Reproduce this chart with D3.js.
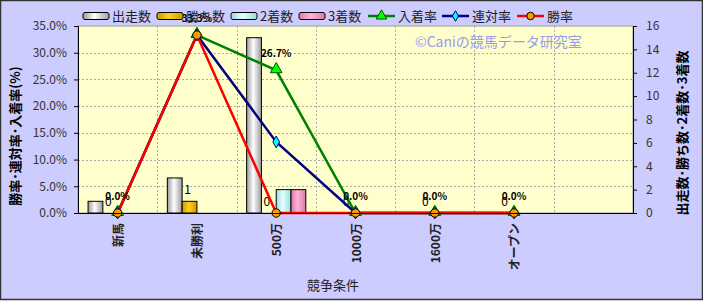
<!DOCTYPE html>
<html>
<head>
<meta charset="utf-8">
<script src="https://cdn.jsdelivr.net/npm/d3@7"></script>
<style>
  body { margin: 0; background: #fff; }
  svg { display: block; font-family: 'Noto Sans CJK JP', 'DejaVu Sans', sans-serif; }
</style>
</head>
<body>
<svg id="chart" width="703" height="301"></svg>
<script>
// data
const categories = ['新馬', '未勝利', '500万', '1000万', '1600万', 'オープン', ''];
const starts  = [1, 3, 15, 0, 0, 0, null];
const wins    = [0, 1, 0, 0, 0, 0, null];
const seconds = [0, 0, 2, 0, 0, 0, null];
const thirds  = [0, 0, 2, 0, 0, 0, null];
const winRate      = [0, 33.3, 0, 0, 0, 0, null];
const rentaiRate   = [0, 33.3, 13.3, 0, 0, 0, null];
const inchakuRate  = [0, 33.3, 26.7, 0, 0, 0, null];
const leftTicks  = [0, 5, 10, 15, 20, 25, 30, 35];
const rightTicks = [0, 2, 4, 6, 8, 10, 12, 14, 16];

const W = 703, H = 301;
const plot = { left: 78, right: 633, top: 26, bottom: 213 };

const svg = d3.select('#chart');

// gradients for the cylinder-ish bars
const defs = svg.append('defs');
const grad = (id, edge, mid) => {
  const g = defs.append('linearGradient').attr('id', id).attr('x1', 0).attr('x2', 1).attr('y1', 0).attr('y2', 0);
  g.append('stop').attr('offset', '0%').attr('stop-color', edge);
  g.append('stop').attr('offset', '45%').attr('stop-color', mid);
  g.append('stop').attr('offset', '100%').attr('stop-color', edge);
};
grad('gStart', '#9a9a9a', '#ffffff');
grad('gWin', '#c99a00', '#ffd21a');
grad('gSecond', '#99dddd', '#e6ffff');
grad('gThird', '#dd77aa', '#ffb3d9');

const barSeries = [
  { key: 's', name: '出走数', values: starts, fill: 'url(#gStart)' },
  { key: 'w', name: '勝ち数', values: wins, fill: 'url(#gWin)' },
  { key: '2', name: '2着数', values: seconds, fill: 'url(#gSecond)' },
  { key: '3', name: '3着数', values: thirds, fill: 'url(#gThird)' },
];
const lineSeries = [
  { name: '入着率', values: inchakuRate, color: '#008000', marker: 'triangle' },
  { name: '連対率', values: rentaiRate, color: '#000080', marker: 'diamond' },
  { name: '勝率', values: winRate, color: '#ff0000', marker: 'circle' },
];

// background + frame
svg.append('rect').attr('x', 0.5).attr('y', 0.5).attr('width', W - 1).attr('height', H - 2)
  .style('fill', '#ccccff').style('stroke', '#333').style('stroke-width', 1.5);

// scales
const x = d3.scaleBand().domain(categories).range([plot.left, plot.right]);
const xb = d3.scaleBand().domain(barSeries.map(d => d.key)).range([0, x.bandwidth()])
  .paddingInner(0).paddingOuter(0.68);
const yL = d3.scaleLinear().domain([0, 35]).range([plot.bottom, plot.top]);
const yR = d3.scaleLinear().domain([0, 16]).range([plot.bottom, plot.top]);

// plot area
svg.append('rect').attr('x', plot.left).attr('y', plot.top)
  .attr('width', plot.right - plot.left).attr('height', plot.bottom - plot.top)
  .style('fill', '#ffffcc').style('stroke', '#999').style('stroke-width', 1);

// grid
svg.append('g').selectAll('line.h').data(leftTicks.slice(1, -1)).enter().append('line')
  .attr('x1', plot.left).attr('x2', plot.right)
  .attr('y1', d => Math.round(yL(d)) + 0.5).attr('y2', d => Math.round(yL(d)) + 0.5)
  .style('stroke', '#aaa').style('stroke-dasharray', '2,2');
svg.append('g').selectAll('line.v').data(categories.slice(1)).enter().append('line')
  .attr('x1', d => Math.round(x(d)) + 0.5).attr('x2', d => Math.round(x(d)) + 0.5)
  .attr('y1', plot.top).attr('y2', plot.bottom)
  .style('stroke', '#aaa').style('stroke-dasharray', '2,2');

// watermark
svg.append('text').attr('x', 415).attr('y', 47).text('©Caniの競馬データ研究室')
  .style('font-size', '14px').style('fill', '#9999ee');

// bars
barSeries.forEach(s => {
  svg.append('g').selectAll('rect')
    .data(categories.map((c, i) => ({ c, v: s.values[i] })).filter(d => d.v))
    .enter().append('rect')
    .attr('x', d => x(d.c) + xb(s.key))
    .attr('width', xb.bandwidth())
    .attr('y', d => yR(d.v))
    .attr('height', d => yR(0) - yR(d.v))
    .style('fill', s.fill).style('stroke', '#000').style('stroke-width', 1);
});

// win count labels
svg.append('g').selectAll('text')
  .data(categories.map((c, i) => ({ c, v: wins[i] })).filter(d => d.v !== null))
  .enter().append('text')
  .attr('x', d => x(d.c) + xb('w') + xb.bandwidth() / 2 - 2)
  .attr('y', d => yR(d.v) - 7)
  .attr('text-anchor', 'middle')
  .style('font-size', '12px').style('fill', '#000')
  .text(d => d.v);

// lines
const cx = c => x(c) + x.bandwidth() / 2;
lineSeries.forEach(s => {
  const pts = categories.map((c, i) => ({ c, v: s.values[i] })).filter(d => d.v !== null);
  svg.append('path').datum(pts)
    .attr('d', d3.line().x(d => cx(d.c)).y(d => yL(d.v)))
    .style('fill', 'none').style('stroke', s.color).style('stroke-width', 2.5);
});

// markers
const markerShape = {
  triangle: { type: d3.symbolTriangle, size: 60, fill: '#00ff00', stroke: '#005500' },
  diamond: { type: d3.symbolDiamond, size: 40, fill: '#00ffff', stroke: '#000080' },
  circle: { type: d3.symbolCircle, size: 55, fill: '#ff9900', stroke: '#000' },
};
lineSeries.forEach(s => {
  const m = markerShape[s.marker];
  svg.append('g').selectAll('path')
    .data(categories.map((c, i) => ({ c, v: s.values[i] })).filter(d => d.v !== null))
    .enter().append('path')
    .attr('transform', d => `translate(${cx(d.c)},${yL(d.v) - (s.marker === 'triangle' ? 1 : 0)})`)
    .attr('d', d3.symbol().type(m.type).size(m.size))
    .style('fill', m.fill).style('stroke', m.stroke).style('stroke-width', 1);
});

// 入着率 labels
svg.append('g').selectAll('text')
  .data(categories.map((c, i) => ({ c, v: inchakuRate[i] })).filter(d => d.v !== null))
  .enter().append('text')
  .attr('x', d => cx(d.c))
  .attr('y', d => yL(d.v) - 13)
  .attr('text-anchor', 'middle')
  .style('font-size', '10px').style('font-weight', 'bold').style('fill', '#000')
  .text(d => d.v.toFixed(1) + '%');

// axes
const leftAxis = svg.append('g').attr('transform', `translate(${plot.left},0)`)
  .call(d3.axisLeft(yL).tickValues(leftTicks).tickSize(4).tickFormat(d => d.toFixed(1) + '%'));
const rightAxis = svg.append('g').attr('transform', `translate(${plot.right},0)`)
  .call(d3.axisRight(yR).tickValues(rightTicks).tickSize(4));
const bottomAxis = svg.append('g').attr('transform', `translate(0,${plot.bottom})`)
  .call(d3.axisBottom(x).tickSize(0).tickFormat(''));
[leftAxis, rightAxis, bottomAxis].forEach(a => {
  a.select('.domain').style('stroke', '#000');
  a.selectAll('.tick line').style('stroke', '#000');
  a.selectAll('text').style('font-size', '12px').style('fill', '#333')
    .style('font-family', "'Noto Sans CJK JP', sans-serif");
});
leftAxis.selectAll('text').attr('dx', -4);
rightAxis.selectAll('text').attr('dx', 6);

// category labels, rotated
svg.append('g').selectAll('text').data(categories).enter().append('text')
  .attr('transform', d => `translate(${cx(d) + 5},223) rotate(-90)`)
  .attr('text-anchor', 'end')
  .style('font-size', '12px').style('font-weight', 'bold').style('fill', '#222')
  .text(d => d);

// axis titles
svg.append('text').attr('transform', 'translate(20,136) rotate(-90)')
  .attr('text-anchor', 'middle').style('font-size', '13px').style('font-weight', 'bold')
  .text('勝率･連対率･入着率(%)');
svg.append('text').attr('transform', 'translate(687,133) rotate(-90)')
  .attr('text-anchor', 'middle').style('font-size', '13px').style('font-weight', 'bold')
  .text('出走数･勝ち数･2着数･3着数');
svg.append('text').attr('x', 333).attr('y', 290)
  .attr('text-anchor', 'middle').style('font-size', '13px').style('fill', '#222')
  .text('競争条件');

// legend
const legend = svg.append('g').attr('transform', 'translate(0,16)');
const legendBarX = [83, 157, 231, 299];
barSeries.forEach((s, i) => {
  const g = legend.append('g').attr('transform', `translate(${legendBarX[i]},0)`);
  g.append('rect').attr('x', 0).attr('y', -3.5).attr('width', 26).attr('height', 7).attr('rx', 2)
    .style('fill', s.fill).style('stroke', '#000').style('stroke-width', 1);
  g.append('text').attr('x', 29).attr('y', 5).text(s.name)
    .style('font-size', '13px').style('fill', '#222');
});
const legendLineX = [368, 442, 517];
lineSeries.forEach((s, i) => {
  const m = markerShape[s.marker];
  const g = legend.append('g').attr('transform', `translate(${legendLineX[i]},0)`);
  g.append('line').attr('x1', 0).attr('x2', 27).attr('y1', 0).attr('y2', 0)
    .style('stroke', s.color).style('stroke-width', 2.5);
  g.append('path').attr('transform', 'translate(13.5,0)')
    .attr('d', d3.symbol().type(m.type).size(m.size * 0.8))
    .style('fill', m.fill).style('stroke', m.stroke);
  g.append('text').attr('x', 30).attr('y', 5).text(s.name)
    .style('font-size', '13px').style('fill', '#222');
});
</script>
</body>
</html>
